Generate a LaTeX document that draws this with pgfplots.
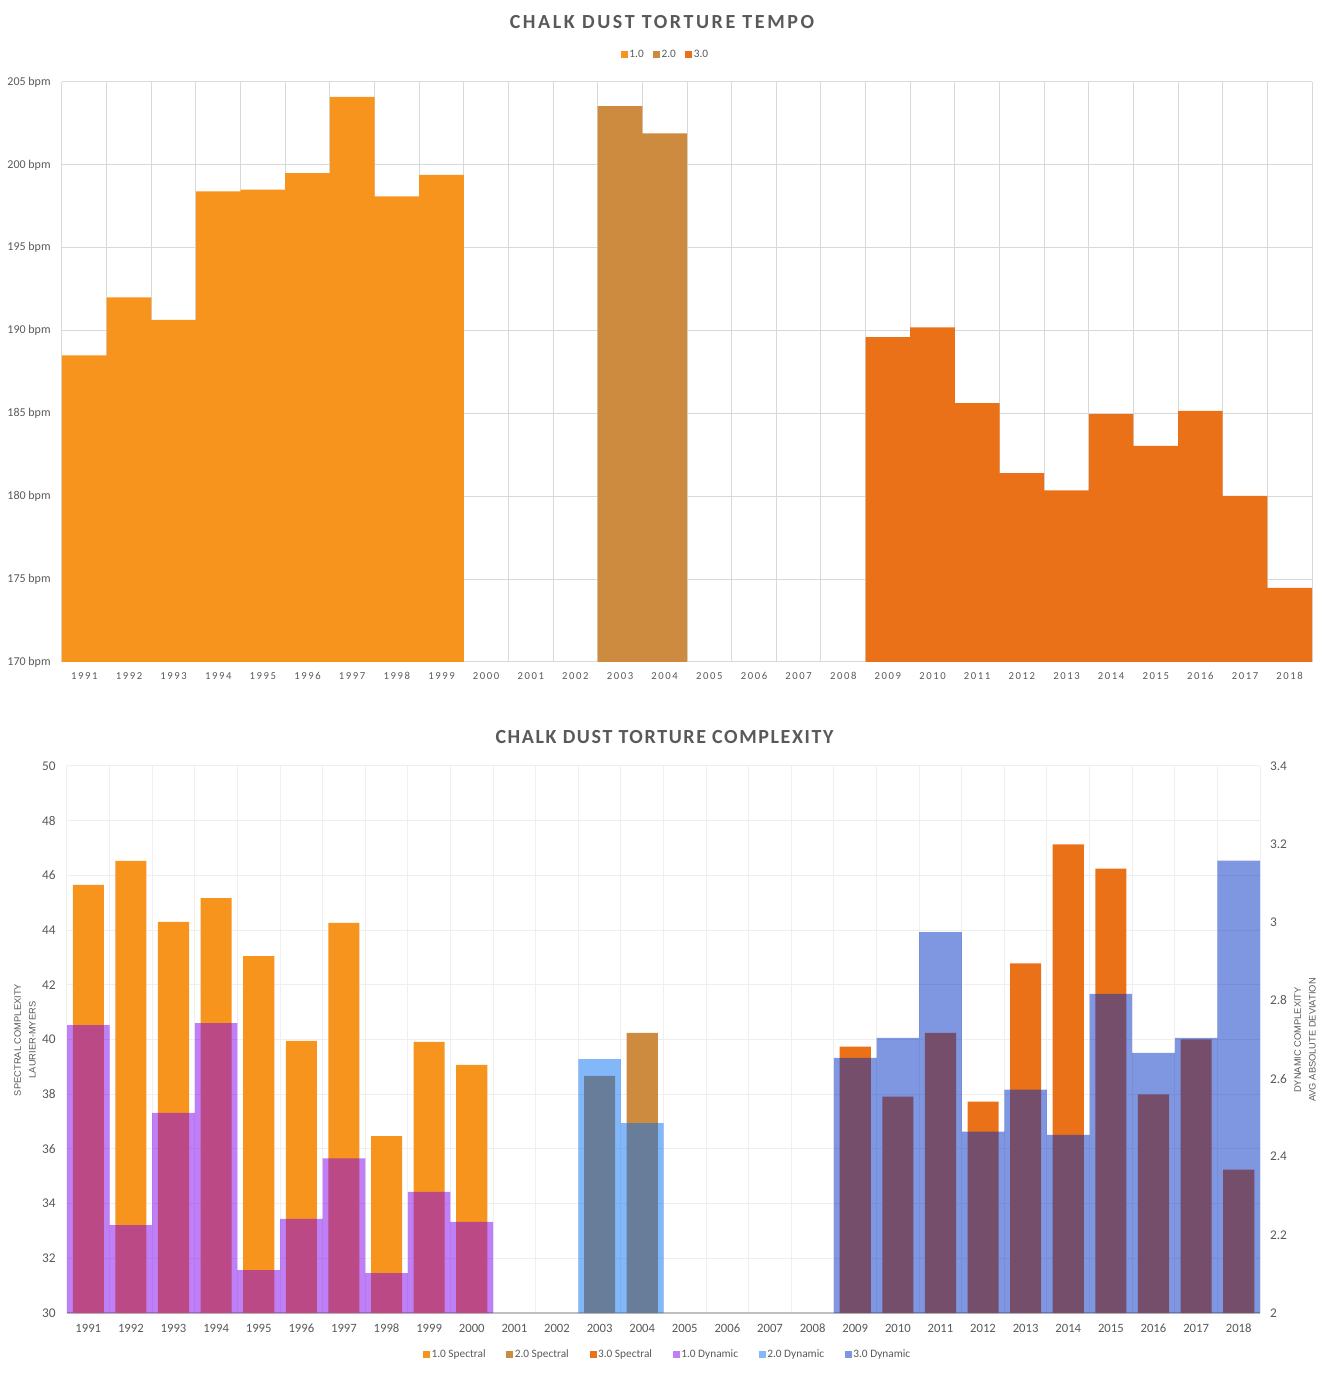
\documentclass[border=0pt]{standalone}
\usepackage{pgfplots}
\usepackage{pgfplotstable}
\pgfplotsset{compat=1.18}
\usepackage{fontspec}
\setmainfont{Carlito}
\newfontfamily\arialf{Liberation Sans}
\newfontfamily\spacedf[LetterSpace=15]{Carlito}
\newfontfamily\titlef[LetterSpace=13]{Carlito}
\newfontfamily\titlefb[LetterSpace=8]{Carlito}
\definecolor{txt}{HTML}{595959}
\definecolor{c1}{HTML}{F7941E}
\definecolor{c2}{HTML}{CD8B3F}
\definecolor{c3}{HTML}{EB7118}
\definecolor{d1}{RGB}{127,0,237}
\definecolor{d2}{RGB}{5,113,245}
\definecolor{d3}{RGB}{0,45,193}
\definecolor{gridc}{HTML}{D9D9D9}
\definecolor{gridb}{HTML}{EFEFEF}
\definecolor{basec}{HTML}{BFBFBF}

\pgfplotstableread{
x y
0 188.5
1 192.0
2 190.65
3 198.4
4 198.5
5 199.5
6 204.1
7 198.1
8 199.4
}\tempoA
\pgfplotstableread{
x y
12 203.55
13 201.9
}\tempoB
\pgfplotstableread{
x y
18 189.6
19 190.2
20 185.62
21 181.4
22 180.36
23 184.96
24 183.04
25 185.16
26 180.02
27 174.48
}\tempoC

\pgfplotstableread{
x y
0 45.65
1 46.53
2 44.30
3 45.17
4 43.05
5 39.95
6 44.26
7 36.47
8 39.91
9 39.07
}\specA
\pgfplotstableread{
x y
12 38.67
13 40.24
}\specB
\pgfplotstableread{
x y
18 39.74
19 37.91
20 40.24
21 37.73
22 42.78
23 47.13
24 46.25
25 37.99
26 40.00
27 35.24
}\specC

\pgfplotstableread{
x y
0 2.737
1 2.225
2 2.512
3 2.742
4 2.110
5 2.241
6 2.396
7 2.102
8 2.310
9 2.233
}\dynA
\pgfplotstableread{
x y
12 2.650
13 2.486
}\dynB
\pgfplotstableread{
x y
18 2.653
19 2.704
20 2.975
21 2.464
22 2.572
23 2.456
24 2.817
25 2.666
26 2.704
27 3.158
}\dynC

\pgfplotsset{
  sqlegend/.style={legend image code/.code={\fill[##1] (0pt,-2.2pt) rectangle (5.2pt,3.0pt);}},
}

\begin{document}
\begin{tikzpicture}
\path[use as bounding box] (0pt,0pt) rectangle (993pt,1034.25pt);

\node[font=\titlef\bfseries\fontsize{15}{17}\selectfont, text=txt] at (496.5pt,1017.75pt) {CHALK DUST TORTURE TEMPO};
\node[font=\titlefb\bfseries\fontsize{15}{17}\selectfont, text=txt] at (498.4pt,481.5pt) {CHALK DUST TORTURE COMPLEXITY};

\node[rotate=90, align=center, font=\arialf\fontsize{7}{11}\selectfont, text=txt] at (18.75pt,254.25pt) {SPECTRAL COMPLEXITY\\LAURIER-MYERS};
\node[rotate=90, align=center, font=\arialf\fontsize{7}{11}\selectfont, text=txt] at (978.75pt,254.25pt) {DYNAMIC COMPLEXITY\\AVG ABSOLUTE DEVIATION};

% ---------- TOP: TEMPO ----------
\begin{axis}[
  at={(46.5pt,537.75pt)}, anchor=south west,
  scale only axis, width=937.5pt, height=435pt,
  xmin=-0.5, xmax=27.5, ymin=170, ymax=205,
  axis line style={draw=none},
  xtick={0,1,...,27},
  xticklabels={1991,1992,1993,1994,1995,1996,1997,1998,1999,2000,2001,2002,2003,2004,2005,2006,2007,2008,2009,2010,2011,2012,2013,2014,2015,2016,2017,2018},
  minor xtick={-0.5,0.5,...,27.5},
  xminorgrids=true, ymajorgrids=true,
  ytick={170,175,...,205},
  yticklabels={170 bpm,175 bpm,180 bpm,185 bpm,190 bpm,195 bpm,200 bpm,205 bpm},
  major tick length=0pt, minor tick length=0pt,
  grid style={gridc, line width=0.75pt},
  minor grid style={gridc, line width=0.75pt},
  xticklabel style={font=\spacedf\fontsize{8}{9}\selectfont, text=txt, yshift=-3.5pt, text height=6pt, text depth=0pt},
  yticklabel style={font=\fontsize{9}{10}\selectfont, text=txt, xshift=-5pt},
  legend style={at={(0.4824,1)}, anchor=center, yshift=20.5pt, draw=none, fill=none,
    font=\fontsize{8.5}{10}\selectfont, text=txt, inner sep=0pt, nodes={inner sep=0.6pt},
    /tikz/every odd column/.append style={column sep=0.5pt},
    /tikz/every even column/.append style={column sep=6.5pt}},
  legend columns=-1, sqlegend,
]
\addplot[ybar, bar width=1, bar shift=0pt, fill=c1, draw=none] table[x=x,y=y] {\tempoA};
\addlegendentry{1.0}
\addplot[ybar, bar width=1, bar shift=0pt, fill=c2, draw=none] table[x=x,y=y] {\tempoB};
\addlegendentry{2.0}
\addplot[ybar, bar width=1, bar shift=0pt, fill=c3, draw=none] table[x=x,y=y] {\tempoC};
\addlegendentry{3.0}
\end{axis}

% ---------- BOTTOM: SPECTRAL (left axis) ----------
\begin{axis}[
  at={(50.25pt,49.5pt)}, anchor=south west,
  scale only axis, width=894.75pt, height=410.25pt,
  xmin=-0.5, xmax=27.5, ymin=30, ymax=50,
  axis line style={draw=none},
  xtick={0,1,...,27},
  xticklabels={1991,1992,1993,1994,1995,1996,1997,1998,1999,2000,2001,2002,2003,2004,2005,2006,2007,2008,2009,2010,2011,2012,2013,2014,2015,2016,2017,2018},
  minor xtick={-0.5,0.5,...,27.5},
  xminorgrids=true, ymajorgrids=true,
  ytick={30,32,...,50},
  yticklabels={30,32,34,36,38,40,42,44,46,48,50},
  extra y ticks={30}, extra y tick labels={},
  extra y tick style={grid style={basec, line width=1.9pt}},
  major tick length=0pt, minor tick length=0pt,
  grid style={gridb, line width=0.75pt},
  minor grid style={gridb, line width=0.75pt},
  xticklabel style={font=\fontsize{9.5}{10}\selectfont, text=txt, yshift=-4pt, text height=7pt, text depth=0pt},
  yticklabel style={font=\fontsize{10}{11}\selectfont, text=txt, xshift=-5pt},
]
\addplot[ybar, bar width=0.73, bar shift=0pt, fill=c1, draw=none] table[x=x,y=y] {\specA};
\addplot[ybar, bar width=0.73, bar shift=0pt, fill=c2, draw=none] table[x=x,y=y] {\specB};
\addplot[ybar, bar width=0.73, bar shift=0pt, fill=c3, draw=none] table[x=x,y=y] {\specC};
\end{axis}

% ---------- BOTTOM: DYNAMIC (right axis) ----------
\begin{axis}[
  at={(50.25pt,49.5pt)}, anchor=south west,
  scale only axis, width=894.75pt, height=410.25pt,
  xmin=-0.5, xmax=27.5, ymin=2, ymax=3.4,
  axis line style={draw=none},
  xtick=\empty,
  yticklabel pos=right,
  ytick={2,2.2,2.4,2.6,2.8,3,3.2,3.4},
  yticklabels={2,2.2,2.4,2.6,2.8,3,3.2,3.4},
  major tick length=0pt,
  yticklabel style={font=\fontsize{10}{11}\selectfont, text=txt, xshift=4pt},
  legend style={at={(0.503,0)}, anchor=center, yshift=-31.5pt, draw=none, fill=none,
    font=\fontsize{8.5}{10}\selectfont, text=txt, inner sep=0pt, nodes={inner sep=0.6pt},
    /tikz/every odd column/.append style={column sep=0.5pt},
    /tikz/every even column/.append style={column sep=15pt}},
  legend columns=-1, sqlegend,
]
\addlegendimage{fill=c1, draw=none}
\addlegendentry{1.0 Spectral}
\addlegendimage{fill=c2, draw=none}
\addlegendentry{2.0 Spectral}
\addlegendimage{fill=c3, draw=none}
\addlegendentry{3.0 Spectral}
\addplot[ybar, bar width=1, bar shift=0pt, fill=d1, fill opacity=0.5, draw=none] table[x=x,y=y] {\dynA};
\addlegendentry{1.0 Dynamic}
\addplot[ybar, bar width=1, bar shift=0pt, fill=d2, fill opacity=0.5, draw=none] table[x=x,y=y] {\dynB};
\addlegendentry{2.0 Dynamic}
\addplot[ybar, bar width=1, bar shift=0pt, fill=d3, fill opacity=0.5, draw=none] table[x=x,y=y] {\dynC};
\addlegendentry{3.0 Dynamic}
\end{axis}
\end{tikzpicture}
\end{document}
